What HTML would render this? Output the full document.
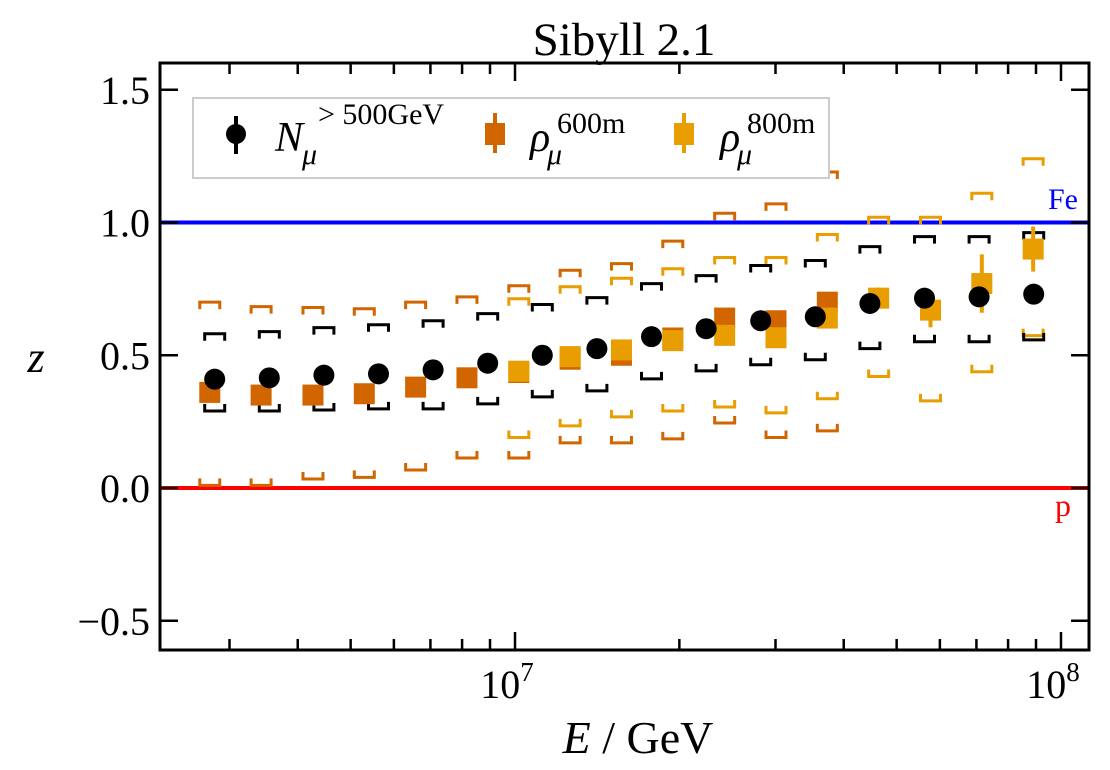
<!DOCTYPE html>
<html><head><meta charset="utf-8"><style>
body{margin:0;background:#fff}
svg text{font-family:"Liberation Serif","DejaVu Serif",serif}
</style></head><body>
<svg id="chart" width="1110" height="770" viewBox="0 0 1110 770" xmlns="http://www.w3.org/2000/svg" style="position:absolute;left:0;top:0">
<g id="plot"></g>
</svg>
<script>
// ---- data ----
const nmuLogE = [6.45,6.55,6.65,6.75,6.85,6.95,7.05,7.15,7.25,7.35,7.45,7.55,7.65,7.75,7.85,7.95];
const nmuZ    = [0.41,0.415,0.425,0.43,0.445,0.47,0.50,0.525,0.57,0.60,0.63,0.645,0.695,0.715,0.72,0.73];
const nmuSysHi= [0.581,0.589,0.604,0.615,0.630,0.657,0.691,0.717,0.770,0.800,0.838,0.857,0.909,0.947,0.947,0.962];
const nmuSysLo= [0.29,0.29,0.294,0.298,0.298,0.317,0.343,0.366,0.411,0.441,0.464,0.483,0.525,0.551,0.551,0.558];

const rho600LogE = [6.441,6.535,6.630,6.724,6.818,6.912,7.007,7.101,7.195,7.289,7.384,7.478,7.572];
const rho600Z    = [0.36,0.35,0.35,0.355,0.38,0.415,0.435,0.485,0.50,0.565,0.64,0.63,0.70];
const rho600Err  = [0.01,0.01,0.01,0.01,0.01,0.01,0.01,0.01,0.01,0.01,0.015,0.015,0.035];
const rho600SysHi= [0.70,0.683,0.68,0.675,0.70,0.72,0.762,0.82,0.845,0.93,1.035,1.07,1.19];
const rho600SysLo= [0.01,0.01,0.034,0.04,0.068,0.113,0.113,0.17,0.17,0.185,0.245,0.19,0.215];

const rho800LogE = [7.007,7.101,7.195,7.289,7.384,7.478,7.572,7.666,7.761,7.855,7.949];
const rho800Z    = [0.44,0.495,0.52,0.555,0.575,0.566,0.64,0.715,0.67,0.77,0.90];
const rho800Err  = [0.01,0.01,0.01,0.01,0.015,0.02,0.03,0.04,0.065,0.11,0.085];
const rho800SysHi= [0.713,0.758,0.79,0.826,0.868,0.868,0.955,1.02,1.02,1.11,1.24];
const rho800SysLo= [0.19,0.234,0.268,0.29,0.305,0.283,0.336,0.42,0.328,0.438,0.574];

const yTicks = [-0.5,0,0.5,1,1.5];
const yTickLabels = ["\u22120.5","0.0","0.5","1.0","1.5"];

// ---- axes ----
const L=160,R=1089,T=63,B=650;
const xs = lg => 515 + (lg-7)*546;
const ys = z => 488 - z*265.5;
const NS="http://www.w3.org/2000/svg";
const g=document.getElementById('plot');
function el(tag,attrs,parent){const e=document.createElementNS(NS,tag);for(const k in attrs)e.setAttribute(k,attrs[k]);(parent||g).appendChild(e);return e;}

let fe=el('line',{x1:L,x2:R,y1:ys(1),y2:ys(1),stroke:'#0000ff','stroke-width':4});


let pl=el('line',{x1:L,x2:R,y1:ys(0),y2:ys(0),stroke:'#ff0000','stroke-width':4});



function bracket(x,y,up,color,name){
  const w=10,h=7;
  const d = up ? `M${x-w},${y+h}V${y}H${x+w}V${y+h}` : `M${x-w},${y-h}V${y}H${x+w}V${y-h}`;
  const p=el('path',{d:d,fill:'none',stroke:color,'stroke-width':3});
  
  
}
function drawSys(lgs,hi,lo,color,nm){
  lgs.forEach((lg,i)=>{bracket(xs(lg),ys(hi[i]),true,color,nm+'-sys-upper');bracket(xs(lg),ys(lo[i]),false,color,nm+'-sys-lower');});
}
drawSys(rho600LogE,rho600SysHi,rho600SysLo,'#d16600','rho600');
drawSys(rho800LogE,rho800SysHi,rho800SysLo,'#e89d00','rho800');
drawSys(nmuLogE,nmuSysHi,nmuSysLo,'#000','nmu');

function drawSq(lgs,zs,errs,color,nm){
  lgs.forEach((lg,i)=>{
    const x=xs(lg),y=ys(zs[i]);
    const l=el('line',{x1:x,x2:x,y1:ys(zs[i]+errs[i]),y2:ys(zs[i]-errs[i]),stroke:color,'stroke-width':4});
    
    
    const r=el('rect',{x:x-10.5,y:y-10.5,width:21,height:21,fill:color});
    
    
  });
}
drawSq(rho600LogE,rho600Z,rho600Err,'#d16600','rho600');
drawSq(rho800LogE,rho800Z,rho800Err,'#e89d00','rho800');
nmuLogE.forEach((lg,i)=>{
  const c=el('circle',{cx:xs(lg),cy:ys(nmuZ[i]),r:10.5,fill:'#000'});
  
  
});

let fr=el('rect',{x:L,y:T,width:R-L,height:B-T,fill:'none',stroke:'#000','stroke-width':3});



yTicks.forEach((v,i)=>{
  const y=ys(v);
  el('line',{x1:L,x2:L+18,y1:y,y2:y,stroke:'#000','stroke-width':2.5});
  el('line',{x1:R-18,x2:R,y1:y,y2:y,stroke:'#000','stroke-width':2.5});
  const t=el('text',{x:L-10,y:y+14,'text-anchor':'end','font-size':40});
  t.textContent=yTickLabels[i];
  
  
});
for(let dec=6;dec<=8;dec++){
  for(let m=1;m<10;m++){
    const lg=dec+Math.log10(m); const x=xs(lg);
    if(x<L||x>R) continue;
    const len = m===1?18:11;
    el('line',{x1:x,x2:x,y1:B,y2:B-len,stroke:'#000','stroke-width':2.5});
    el('line',{x1:x,x2:x,y1:T,y2:T+len,stroke:'#000','stroke-width':2.5});
    if(m===1){
      const t=el('text',{x:x-8,y:B+48,'text-anchor':'middle','font-size':40});
      t.innerHTML='10<tspan dy="-17" font-size="27">'+dec+'</tspan>';
      
      
    }
  }
}
</script>
<svg style="position:absolute;left:0;top:0" width="1110" height="770">
<text x="624" y="55" text-anchor="middle" font-size="47" font-family="Liberation Serif,serif">Sibyll 2.1</text>
<text x="1063" y="209" text-anchor="middle" font-size="30" fill="#0000ff" font-family="Liberation Serif,serif">Fe</text>
<text x="1063" y="516" text-anchor="middle" font-size="32" fill="#ff0000" font-family="Liberation Serif,serif">p</text>
<text x="36" y="372" text-anchor="middle" font-size="44" font-style="italic" font-family="Liberation Serif,serif">z</text>
<text x="638" y="753" text-anchor="middle" font-size="46" font-family="Liberation Serif,serif"><tspan font-style="italic">E</tspan> / GeV</text>
<g font-family="Liberation Serif,serif">
<rect x="193" y="98" width="636" height="80" fill="#fff" stroke="#ccc" stroke-width="2"/>
<g>
<line x1="236" x2="236" y1="116" y2="154" stroke="#000" stroke-width="4"/><circle cx="236" cy="134" r="10" fill="#000"/>
<text x="275" y="151" font-size="42" font-style="italic">N</text>
<text x="302" y="164" font-size="30" font-style="italic">μ</text>
<text x="318" y="124" font-size="30">&gt; 500GeV</text></g>
<g>
<line x1="495" x2="495" y1="113" y2="153" stroke="#d16600" stroke-width="4"/><rect x="485" y="123" width="20" height="22" fill="#d16600"/>
<text x="530" y="151" font-size="42" font-style="italic">ρ</text>
<text x="547" y="164" font-size="30" font-style="italic">μ</text>
<text x="557" y="133" font-size="30">600m</text></g>
<g>
<line x1="684" x2="684" y1="113" y2="153" stroke="#e89d00" stroke-width="4"/><rect x="674" y="123" width="20" height="22" fill="#e89d00"/>
<text x="720" y="151" font-size="42" font-style="italic">ρ</text>
<text x="737" y="164" font-size="30" font-style="italic">μ</text>
<text x="747" y="133" font-size="30">800m</text></g>
</g>
</svg>
</body></html>
